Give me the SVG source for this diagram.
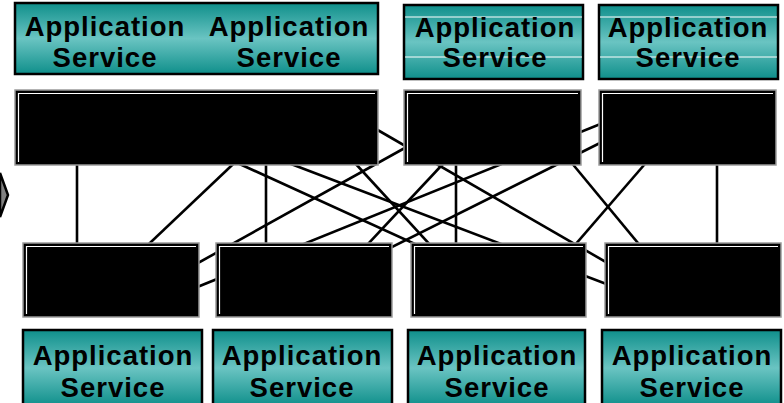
<svg xmlns="http://www.w3.org/2000/svg" width="784" height="403" viewBox="0 0 784 403">
<defs>
<linearGradient id="teal" x1="0" y1="0" x2="0" y2="1">
<stop offset="0" stop-color="#0f8f8b"/>
<stop offset="0.5" stop-color="#6ac4c2"/>
<stop offset="1" stop-color="#0f8f8b"/>
</linearGradient>
</defs>
<style>
.app{fill:url(#teal);stroke:#000;stroke-width:2.5}
.sw{fill:#000;stroke:#9a9a9a;stroke-width:1.5}
.bev{fill:none;stroke:#fff;stroke-width:1.2}
.hl{stroke:#fff;stroke-width:1}
.t{font-family:"Liberation Sans",Arial,sans-serif;font-weight:bold;font-size:27.5px;letter-spacing:1px;text-anchor:middle;fill:#000}
.c{stroke:#000;stroke-width:2.6;fill:none}
</style>
<rect width="784" height="403" fill="#fff"/>
<polygon points="0,173 8,195 0,217" fill="#808080" stroke="#000" stroke-width="2.5"/>
<g id="connectors">
<line class="c" x1="77" y1="150" x2="77" y2="260"/>
<line class="c" x1="266" y1="150" x2="266" y2="260"/>
<line class="c" x1="456" y1="150" x2="456" y2="260"/>
<line class="c" x1="717" y1="150" x2="717" y2="260"/>
<line class="c" x1="248" y1="150" x2="132" y2="260"/>
<line class="c" x1="209" y1="150" x2="450" y2="260"/>
<line class="c" x1="350" y1="114" x2="630" y2="276"/>
<line class="c" x1="270" y1="156" x2="630" y2="293"/>
<line class="c" x1="343" y1="150" x2="444" y2="260"/>
<line class="c" x1="180" y1="273" x2="430" y2="134"/>
<line class="c" x1="456" y1="150" x2="353" y2="260"/>
<line class="c" x1="561" y1="150" x2="652" y2="260"/>
<line class="c" x1="657" y1="150" x2="562" y2="260"/>
<line class="c" x1="180" y1="294" x2="640" y2="108"/>
<line class="c" x1="370" y1="258" x2="640" y2="123"/>
</g>
<g id="app-top-1">
<rect class="app" x="15" y="3" width="363" height="71"/>
<text class="t" x="105" y="36">Application</text>
<text class="t" x="105" y="67">Service</text>
<text class="t" x="289" y="36">Application</text>
<text class="t" x="289" y="67">Service</text>
</g>
<g id="app-top-2">
<rect class="app" x="404" y="5" width="179" height="74"/>
<line class="hl" x1="405" y1="17" x2="582" y2="17"/>
<line class="hl" x1="405" y1="57" x2="582" y2="57"/>
<text class="t" x="495" y="37">Application</text>
<text class="t" x="495" y="67">Service</text>
</g>
<g id="app-top-3">
<rect class="app" x="599" y="5" width="179" height="74"/>
<line class="hl" x1="600" y1="17" x2="777" y2="17"/>
<line class="hl" x1="600" y1="57" x2="777" y2="57"/>
<text class="t" x="688" y="37">Application</text>
<text class="t" x="688" y="67">Service</text>
</g>
<g id="switch-top-1">
<rect class="sw" x="15" y="90" width="363" height="75"/>
<polyline class="bev" points="18.5,162 18.5,93.5 375,93.5"/>
</g>
<g id="switch-top-2">
<rect class="sw" x="404" y="90" width="177" height="75"/>
<polyline class="bev" points="407.5,162 407.5,93.5 578,93.5"/>
</g>
<g id="switch-top-3">
<rect class="sw" x="599" y="90" width="177" height="75"/>
<polyline class="bev" points="602.5,162 602.5,93.5 773,93.5"/>
</g>
<g id="switch-bottom-1">
<rect class="sw" x="23" y="243" width="176" height="74"/>
<polyline class="bev" points="26.5,314 26.5,246.5 196,246.5"/>
</g>
<g id="switch-bottom-2">
<rect class="sw" x="216" y="243" width="176" height="74"/>
<polyline class="bev" points="219.5,314 219.5,246.5 389,246.5"/>
</g>
<g id="switch-bottom-3">
<rect class="sw" x="411" y="243" width="175" height="74"/>
<polyline class="bev" points="414.5,314 414.5,246.5 583,246.5"/>
</g>
<g id="switch-bottom-4">
<rect class="sw" x="605" y="243" width="176" height="74"/>
<polyline class="bev" points="608.5,314 608.5,246.5 778,246.5"/>
</g>
<g id="app-bottom-1">
<rect class="app" x="23" y="330" width="179" height="76"/>
<text class="t" x="113" y="365">Application</text>
<text class="t" x="113" y="397">Service</text>
</g>
<g id="app-bottom-2">
<rect class="app" x="213" y="330" width="179" height="76"/>
<text class="t" x="302" y="365">Application</text>
<text class="t" x="302" y="397">Service</text>
</g>
<g id="app-bottom-3">
<rect class="app" x="408" y="330" width="177" height="76"/>
<text class="t" x="497" y="365">Application</text>
<text class="t" x="497" y="397">Service</text>
</g>
<g id="app-bottom-4">
<rect class="app" x="602" y="330" width="179" height="76"/>
<text class="t" x="692" y="365">Application</text>
<text class="t" x="692" y="397">Service</text>
</g>
</svg>
